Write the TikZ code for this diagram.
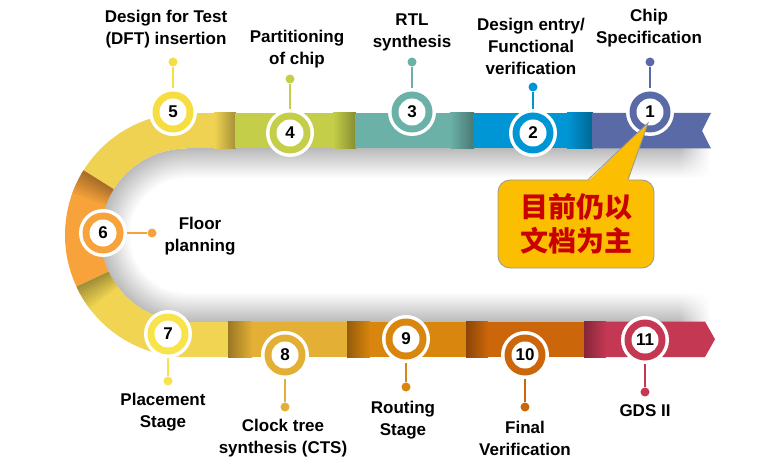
\documentclass[tikz,border=0pt]{standalone}
\usepackage{fontspec}
\setmainfont{Liberation Sans}
\newfontfamily\cjk{Noto Sans CJK SC}
\usetikzlibrary{calc,positioning,fadings}

\definecolor{c1}{RGB}{90,106,166}
\definecolor{c2}{RGB}{0,150,214}
\definecolor{c3}{RGB}{107,177,168}
\definecolor{c4}{RGB}{196,206,72}
\definecolor{c5}{RGB}{246,222,66}
\definecolor{c5band}{RGB}{240,210,82}
\definecolor{c6}{RGB}{248,162,60}
\definecolor{c7}{RGB}{248,228,74}
\definecolor{c7band}{RGB}{240,212,82}
\definecolor{c8}{RGB}{227,175,52}
\definecolor{c9}{RGB}{217,134,14}
\definecolor{c10}{RGB}{204,102,10}
\definecolor{c11}{RGB}{196,56,84}
\definecolor{notefill}{RGB}{252,190,0}
\definecolor{notetext}{RGB}{200,0,0}

% soft shadow inside the bend
\pgfdeclareradialshading{bendshadow}{\pgfpoint{0bp}{0bp}}{color(0bp)=(white); color(16.4bp)=(white); color(25bp)=(black!27); color(50bp)=(black!27)}

% one piece of the bend: colour, start angle, end angle
\newcommand{\ringpart}[3]{%
  \fill[#1] ($(ctr)+(#2:122)$) arc[start angle=#2, end angle=#3, radius=122]
    -- ($(ctr)+(#3:86.5)$) arc[start angle=#3, end angle=#2, radius=86.5] -- cycle;}

\begin{document}
\begin{tikzpicture}[x=1pt, y=-1pt,
  marker/.style={circle, fill=white, minimum size=48pt, inner sep=0pt,
    font=\fontsize{17}{17}\selectfont\bfseries,
    path picture={
      \fill[#1] (path picture bounding box.center) circle[radius=20.5pt];
      \fill[white] (path picture bounding box.center) circle[radius=13.5pt];}},
  pindot/.style={circle, fill=#1, minimum size=9pt, inner sep=0pt},
  stem/.style={draw=#1, line width=2pt},
  lbl/.style={align=center, font=\fontsize{17}{22}\selectfont\bfseries},
  callout/.style={draw=black!40, line width=0.8pt, fill=notefill, rounded corners=12pt,
    minimum width=156pt, minimum height=88pt, align=center, text=notetext,
    font=\cjk\fontsize{28}{34}\selectfont\bfseries}
]

\useasboundingbox (0,0) rectangle (774,468);
\fill[white] (0,0) rectangle (774,468);
\coordinate (ctr) at (187,235);

% shadows on the inner field
\begin{scope}
  \clip (ctr) ++(0,-86.5) arc[start angle=270, end angle=90, radius=86.5] -- cycle;
  \shade[shading=bendshadow] (ctr) circle[radius=86.5];
\end{scope}
\shade[top color=black!27, bottom color=white] (186.5,148.5) rectangle (680,178);
\shade[top color=black!27, bottom color=white, path fading=east] (679,148.5) rectangle (710,178);
\shade[top color=white, bottom color=black!27] (186.5,292) rectangle (680,321.5);
\shade[top color=white, bottom color=black!27, path fading=east] (679,292) rectangle (710,321.5);

% the bend
\ringpart{c5band}{270}{212}
\ringpart{c6}{212}{155}
\ringpart{c7band}{155}{90}
\foreach \k [evaluate=\k as \a using 212-1.5*\k, evaluate=\k as \p using int(68+4*\k)] in {0,...,8} {
  \ringpart{c6!\p!black}{\a}{\a-2}
}
\foreach \k [evaluate=\k as \a using 155-1.5*\k, evaluate=\k as \p using int(68+4*\k)] in {0,...,8} {
  \ringpart{c7band!\p!black}{\a}{\a-2}
}

% upper band
\fill[c5band] (186,113) rectangle (236,148.5);
\shade[left color=c5band, right color=c5band!68!black] (214,113) rectangle (236,148.5);
\fill[c4] (235,113) rectangle (356,148.5);
\shade[left color=c4, right color=c4!68!black] (333,113) rectangle (356,148.5);
\fill[c3] (355,113) rectangle (474,148.5);
\shade[left color=c3, right color=c3!68!black] (450,113) rectangle (474,148.5);
\fill[c2] (473,113) rectangle (593,148.5);
\shade[left color=c2, right color=c2!68!black] (567,113) rectangle (593,148.5);
\fill[c1] (592,113) -- (711,113) -- (702,130.75) -- (711,148.5) -- (592,148.5) -- cycle;

% lower band
\fill[c7band] (186,321.5) rectangle (229,357);
\fill[c8] (228,321.5) rectangle (348,357);
\shade[left color=c8!68!black, right color=c8] (228,321.5) rectangle (252,357);
\fill[c9] (347,321.5) rectangle (467,357);
\shade[left color=c9!68!black, right color=c9] (347,321.5) rectangle (370,357);
\fill[c10] (466,321.5) rectangle (585,357);
\shade[left color=c10!68!black, right color=c10] (466,321.5) rectangle (488,357);
\fill[c11] (584,321.5) -- (705,321.5) -- (715,339.25) -- (705,357) -- (584,357) -- cycle;
\shade[left color=c11!68!black, right color=c11] (584,321.5) rectangle (606,357);

% steps with their pins
\foreach \n/\x/\y/\dx/\dy/\col in {1/650/112/650/62/c1, 2/533/133/533/87/c2, 3/412/112/412/62/c3,
    4/290/133/290/79/c4, 5/173/112/173/62/c5, 6/103/233/152/233/c6, 7/168/334/168/381/c7,
    8/285/355/285/407/c8, 9/406/339/406/387/c9, 10/525/355/525/407/c10, 11/645/340/645/392/c11} {
  \node[marker=\col] (s\n) at (\x,\y) {\n};
  \node[pindot=\col] (d\n) at (\dx,\dy) {};
  \draw[stem=\col] (d\n) -- (s\n);
}

% step names
\node[lbl] (l1) at (649,28) {Chip\\Specification};
\node[lbl] (l2) at (531,46.5) {Design entry/\\Functional\\verification};
\node[lbl] (l3) at (412,32) {RTL\\synthesis};
\node[lbl] (l4) at (297,49.5) {Partitioning\\of chip};
\node[lbl] (l5) at (166,29.5) {Design for Test\\(DFT) insertion};
\node[lbl] (l6) at (200,236.5) {Floor\\planning};
\node[lbl] (l7) at (163,412.5) {Placement\\Stage};
\node[lbl] (l8) at (283,438.5) {Clock tree\\synthesis (CTS)};
\node[lbl] (l9) at (403,420.5) {Routing\\Stage};
\node[lbl] (l10) at (525,438.5) {Final\\Verification};
\node[lbl] (l11) at (645,411) {GDS II};

% remark on step 1
\node[callout] (note) at (576,224) {目前仍以\\文档为主};
\coordinate (tip) at ($(s1.center)+(-2,11)$);
\fill[notefill] ([xshift=12pt,yshift=-1.5pt]note.north) -- (tip) -- ([xshift=52pt,yshift=-1.5pt]note.north) -- cycle;
\draw[black!40, line width=0.8pt] ([xshift=12pt]note.north) -- (tip) -- ([xshift=52pt]note.north);

\end{tikzpicture}
\end{document}
